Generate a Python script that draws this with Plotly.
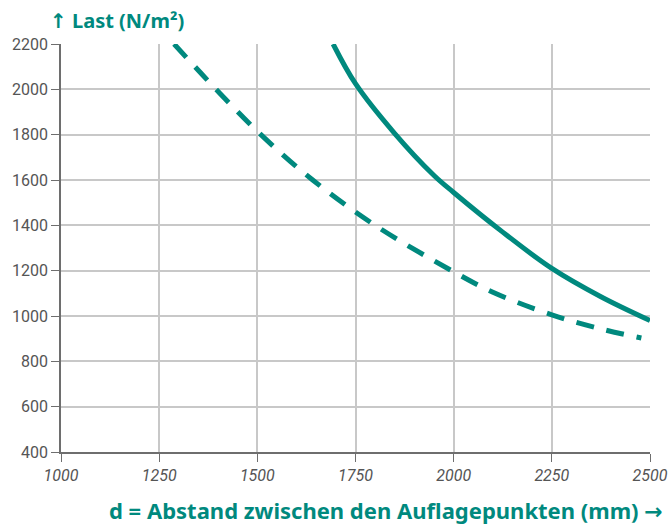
import plotly.graph_objects as go

# Spannweite d (mm) und zulaessige Last (N/m2)
d_solid = [1693, 1750, 1850, 1950, 2000, 2125, 2250, 2375, 2500]
last_solid = [2200, 2025, 1805, 1620, 1545, 1370, 1210, 1085, 980]

d_dashed = [1288, 1395, 1509, 1641, 1800, 1995, 2100, 2250, 2375, 2478]
last_dashed = [2200, 2000, 1800, 1600, 1400, 1200, 1105, 1005, 943, 903]

x_ticks = [1000, 1250, 1500, 1750, 2000, 2250, 2500]
y_ticks = [400, 600, 800, 1000, 1200, 1400, 1600, 1800, 2000, 2200]

teal = "#00897E"
grid = "#C8C8C8"
axis_col = "#6E6E6E"
tick_font = dict(family="Roboto", size=16, color="#555555")
title_font = "Noto Sans"
arrow = '<span style="font-family:\'DejaVu Sans\';font-weight:bold">{}</span>'

fig = go.Figure()
fig.add_trace(go.Scatter(
    x=d_dashed, y=last_dashed, mode="lines",
    line=dict(color=teal, width=5, dash="18px,13px", shape="spline", smoothing=1),
    showlegend=False, hoverinfo="skip",
))
fig.add_trace(go.Scatter(
    x=d_solid, y=last_solid, mode="lines",
    line=dict(color=teal, width=5, shape="spline", smoothing=1),
    showlegend=False, hoverinfo="skip",
))

fig.update_layout(
    width=670, height=525,
    margin=dict(l=61, r=20, t=44, b=73),
    paper_bgcolor="white", plot_bgcolor="white",
    xaxis=dict(
        range=[1000, 2500], tickvals=x_ticks,
        ticktext=[f"<i>{v}</i>" for v in x_ticks],
        showgrid=True, gridcolor=grid, gridwidth=1.5,
        showline=True, linecolor=axis_col, linewidth=1.5,
        ticks="outside", ticklen=8, tickcolor=axis_col, tickwidth=1,
        tickfont=tick_font, zeroline=False, automargin=False,
    ),
    yaxis=dict(
        range=[400, 2200], tickvals=y_ticks,
        showgrid=True, gridcolor=grid, gridwidth=1.5,
        showline=True, linecolor=axis_col, linewidth=1.5,
        ticks="outside", ticklen=8, tickcolor=axis_col, tickwidth=1,
        tickfont=tick_font, zeroline=False, automargin=False,
    ),
    annotations=[
        dict(text="<b>" + arrow.format("↑") + " Last (N/m²)</b>",
             xref="paper", yref="paper",
             x=-0.022, y=1.058, xanchor="left", yanchor="middle",
             showarrow=False, font=dict(family=title_font, size=20, color=teal)),
        dict(text="<b>d = Abstand zwischen den Auflagepunkten (mm) "
                  + arrow.format("→") + "</b>",
             xref="paper", yref="paper", x=1.026, y=-0.143,
             xanchor="right", yanchor="middle", showarrow=False,
             font=dict(family=title_font, size=22, color=teal)),
    ],
)

# remove default page margin so the figure sits at the window origin
fig.write_html("out.html", config={"displayModeBar": False},
               post_script="document.body.style.margin='0';")
